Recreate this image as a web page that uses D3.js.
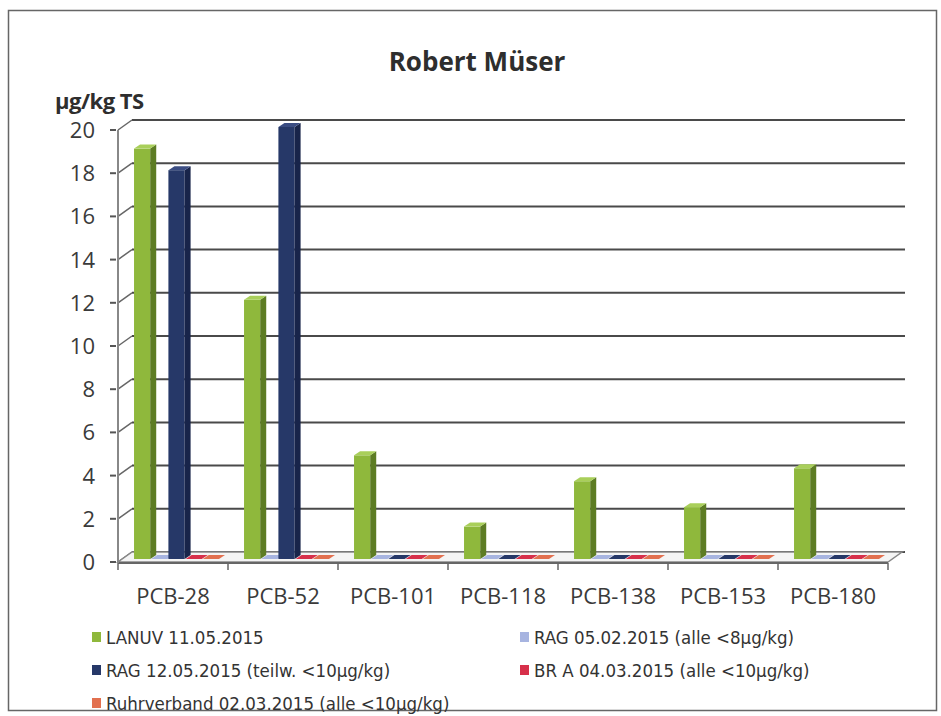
<!DOCTYPE html>
<html>
<head>
<meta charset="utf-8">
<script src="https://cdn.jsdelivr.net/npm/d3@7"></script>
<style>
  body { margin: 0; background: #fff; }
  svg { display: block; }
  .tick-label { font-family: "Open Sans", sans-serif; font-size: 22px; fill: #3a3a3a; }
  .legend-label { font-family: "DejaVu Sans Condensed", sans-serif; font-size: 18.5px; fill: #333; }
</style>
</head>
<body>
<svg id="chart" width="941" height="716"></svg>
<script>
var categories = ["PCB-28", "PCB-52", "PCB-101", "PCB-118", "PCB-138", "PCB-153", "PCB-180"];
var seriesNames = ["LANUV 11.05.2015", "RAG 05.02.2015 (alle <8µg/kg)", "RAG 12.05.2015 (teilw. <10µg/kg)",
                   "BR A 04.03.2015 (alle <10µg/kg)", "Ruhrverband 02.03.2015 (alle <10µg/kg)"];
var lanuv = [19, 12, 4.8, 1.5, 3.6, 2.4, 4.2];
var rag0502 = [0, 0, 0, 0, 0, 0, 0];
var rag1205 = [18, 20, 0, 0, 0, 0, 0];
var bra = [0, 0, 0, 0, 0, 0, 0];
var ruhr = [0, 0, 0, 0, 0, 0, 0];
var yTicks = [0, 2, 4, 6, 8, 10, 12, 14, 16, 18, 20];

var seriesValues = [lanuv, rag0502, rag1205, bra, ruhr];
// front, side, top
var colors = [
  ["#8fb83c", "#5d7c24", "#a9cf5a"],
  ["#a7b4e0", "#8290c0", "#b9c4ea"],
  ["#263868", "#18244a", "#3a4c82"],
  ["#d7304a", "#a82236", "#e0485e"],
  ["#e2704f", "#b8553a", "#eb8a6c"]
];

var svg = d3.select("#chart");

// frame
svg.append("rect").attr("x", 8.5).attr("y", 10.5).attr("width", 928).attr("height", 700)
  .attr("fill", "none").attr("stroke", "#666").attr("stroke-width", 1.5);

var left = 118, right = 888,
    depthX = 14, depthY = -10;

var x0 = d3.scaleBand().domain(categories).range([left, right]);
var x1 = d3.scaleBand().domain(d3.range(seriesNames.length)).range([0, x0.bandwidth()]).paddingOuter(0.7);
var y = d3.scaleLinear().domain([0, 20]).range([562, 130]);

// back wall gridlines + side wall
var grid = svg.append("g");
yTicks.forEach(function(v) {
  grid.append("line")
    .attr("x1", left + depthX).attr("x2", right + depthX + 3)
    .attr("y1", y(v) + depthY).attr("y2", y(v) + depthY)
    .attr("stroke", "#4a4a4a").attr("stroke-width", 2);
  grid.append("line")
    .attr("x1", left).attr("x2", left + depthX)
    .attr("y1", y(v)).attr("y2", y(v) + depthY)
    .attr("stroke", "#666").attr("stroke-width", 1.5);
});

// floor
svg.append("path")
  .attr("d", "M" + left + "," + y(0) + "L" + right + "," + y(0) +
             "L" + (right + depthX) + "," + (y(0) + depthY) + "L" + (left + depthX) + "," + (y(0) + depthY) + "Z")
  .attr("fill", "#f4f4f4").attr("stroke", "#888").attr("stroke-width", 1.5);
svg.append("line")
  .attr("x1", left).attr("x2", right).attr("y1", y(0) + 1).attr("y2", y(0) + 1)
  .attr("stroke", "#666").attr("stroke-width", 2);

// y axis
svg.append("line").attr("x1", left).attr("x2", left).attr("y1", y(20)).attr("y2", y(0) + 1)
  .attr("stroke", "#888").attr("stroke-width", 2);
yTicks.forEach(function(v) {
  svg.append("line").attr("x1", left - 8).attr("x2", left - 2).attr("y1", y(v)).attr("y2", y(v))
    .attr("stroke", "#555").attr("stroke-width", 2);
  svg.append("text").attr("class", "tick-label")
    .attr("x", 95).attr("y", y(v)).attr("dy", "0.36em")
    .attr("text-anchor", "end").text(v);
});

// x ticks and labels
categories.concat([null]).forEach(function(c, i) {
  var xx = i < categories.length ? x0(c) : right;
  svg.append("line").attr("x1", xx).attr("x2", xx).attr("y1", y(0) + 1).attr("y2", y(0) + 8)
    .attr("stroke", "#666").attr("stroke-width", 1.5);
});
categories.forEach(function(c) {
  svg.append("text").attr("class", "tick-label")
    .attr("x", x0(c) + x0.bandwidth() / 2).attr("y", 604)
    .attr("text-anchor", "middle").text(c);
});

// bars (3D look: front, side, top)
var barDx = 4, barDy = -3, sideX = 6, sideY = -4;
var bars = svg.append("g");
categories.forEach(function(c, ci) {
  seriesValues.forEach(function(vals, si) {
    var v = vals[ci];
    var bx = x0(c) + x1(si) + barDx,
        w = x1.bandwidth() - 1,
        yb = y(0) + barDy,
        yt = y(v) + barDy;
    var col = colors[si];
    if (v > 0) {
      bars.append("rect").attr("x", bx).attr("y", yt).attr("width", w).attr("height", yb - yt)
        .attr("fill", col[0]);
      bars.append("path")
        .attr("d", "M" + (bx + w) + "," + yt + "L" + (bx + w + sideX) + "," + (yt + sideY) +
                   "L" + (bx + w + sideX) + "," + (yb + sideY) + "L" + (bx + w) + "," + yb + "Z")
        .attr("fill", col[1]);
    }
    bars.append("path")
      .attr("d", "M" + bx + "," + yt + "L" + (bx + w) + "," + yt +
                 "L" + (bx + w + sideX) + "," + (yt + sideY) + "L" + (bx + sideX) + "," + (yt + sideY) + "Z")
      .attr("fill", v > 0 ? col[2] : col[0]);
  });
});

// title
svg.append("text").attr("x", 477).attr("y", 71).attr("text-anchor", "middle")
  .style("font-family", "'Open Sans', sans-serif").style("font-weight", "bold")
  .style("font-size", "26px").style("fill", "#2e2e2e").text("Robert Müser");
svg.append("text").attr("x", 55).attr("y", 109)
  .style("font-family", "'Open Sans', sans-serif").style("font-weight", "bold")
  .style("font-size", "22px").style("letter-spacing", "-0.5px").style("fill", "#2e2e2e").text("µg/kg TS");

// legend
var legendPos = [[92, 637], [520, 637], [92, 670], [520, 670], [92, 703]];
var legend = svg.selectAll(".legend-item")
  .data(d3.range(seriesNames.length))
  .enter().append("g")
  .attr("class", "legend-item")
  .attr("transform", function(d, i) { return "translate(" + legendPos[i][0] + "," + legendPos[i][1] + ")"; });

legend.append("rect")
  .attr("x", 0).attr("y", -5).attr("width", 9).attr("height", 10)
  .style("fill", function(d) { return colors[d][0]; });

legend.append("text")
  .attr("class", "legend-label")
  .attr("x", 14).attr("y", 0).attr("dy", "0.36em")
  .text(function(d) { return seriesNames[d]; });
</script>
</body>
</html>
